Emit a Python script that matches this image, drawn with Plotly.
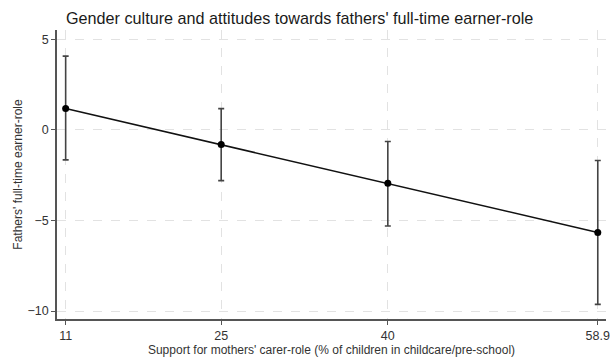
import plotly.graph_objects as go

# Support for mothers' carer-role (% of children in childcare/pre-school)
support = [11, 25, 40, 58.9]
# Predicted attitude towards fathers' full-time earner-role, with 95% CI
estimate = [1.18, -0.81, -2.94, -5.66]
ci_upper = [4.08, 1.18, -0.64, -1.69]
ci_lower = [-1.65, -2.80, -5.30, -9.63]

x_ticks = [11, 25, 40, 58.9]
x_tick_text = ["11", "25", "40", "58.9"]
y_ticks = [5, 0, -5, -10]

err_plus = [u - e for u, e in zip(ci_upper, estimate)]
err_minus = [e - l for e, l in zip(estimate, ci_lower)]

fig = go.Figure()
fig.add_trace(go.Scatter(
    x=support,
    y=estimate,
    mode="lines+markers",
    line=dict(color="#111111", width=1.5),
    marker=dict(color="#000000", size=7),
    error_y=dict(
        type="data",
        symmetric=False,
        array=err_plus,
        arrayminus=err_minus,
        color="#444444",
        thickness=1.6,
        width=3,
    ),
    showlegend=False,
))

axis_font = dict(family="Liberation Sans, Arial, sans-serif", size=12.5, color="#333333")

fig.update_layout(
    width=613,
    height=363,
    margin=dict(l=57, r=3, t=30, b=44),
    paper_bgcolor="white",
    plot_bgcolor="white",
    title=dict(
        text="Gender culture and attitudes towards fathers' full-time earner-role",
        x=66 / 613,
        xanchor="left",
        y=1 - 18 / 363,
        yanchor="middle",
        font=dict(family="Liberation Sans, Arial, sans-serif", size=16.2, color="#1a1a1a"),
    ),
    xaxis=dict(
        range=[10.22, 59.64],
        tickmode="array",
        tickvals=x_ticks,
        ticktext=x_tick_text,
        ticklabeloverflow="allow",
        showline=True,
        linecolor="#555555",
        linewidth=1.5,
        ticks="outside",
        ticklen=4,
        tickcolor="#555555",
        showgrid=True,
        gridcolor="#e2e2e2",
        griddash="dash",
        gridwidth=1,
        zeroline=False,
        tickfont=axis_font,
        title=dict(
            text="Support for mothers' carer-role (% of children in childcare/pre-school)",
            font=dict(family="Liberation Sans, Arial, sans-serif", size=12, color="#333333"),
            standoff=4,
        ),
    ),
    yaxis=dict(
        range=[-10.44, 5.52],
        tickmode="array",
        tickvals=y_ticks,
        showline=True,
        linecolor="#555555",
        linewidth=1.5,
        ticks="outside",
        ticklen=4,
        tickcolor="#555555",
        showgrid=True,
        gridcolor="#e2e2e2",
        griddash="dash",
        gridwidth=1,
        zeroline=False,
        tickfont=axis_font,
        title=dict(
            text="Fathers' full-time earner-role",
            font=dict(family="Liberation Sans, Arial, sans-serif", size=12, color="#333333"),
            standoff=2,
        ),
    ),
)

fig.write_html("out.html")
